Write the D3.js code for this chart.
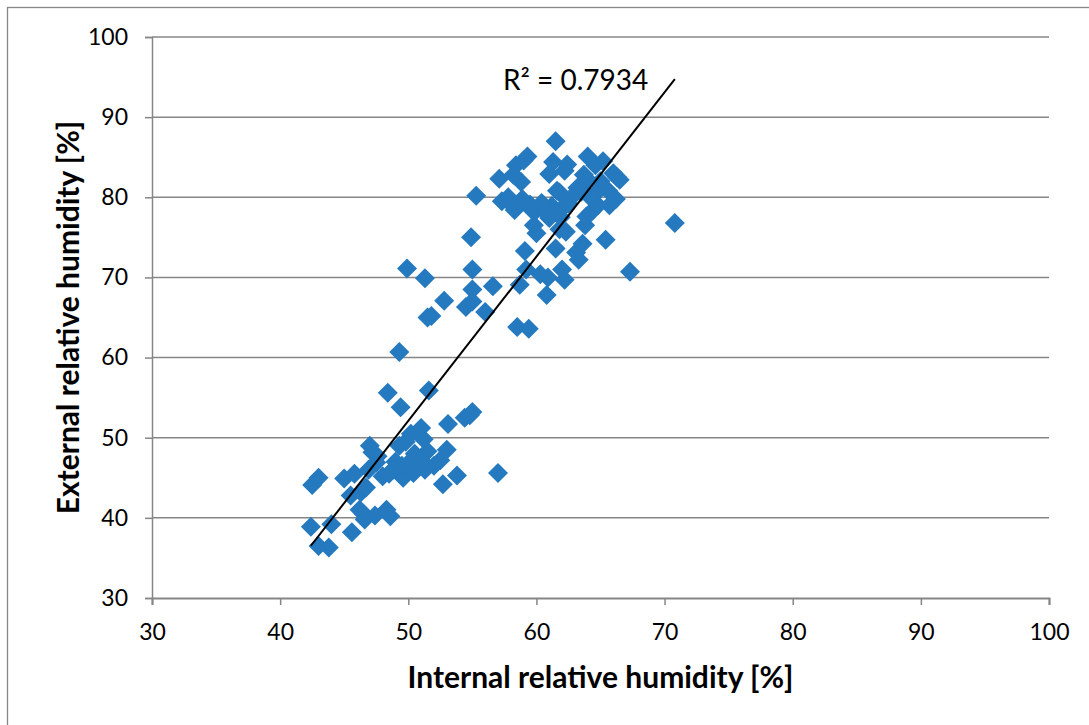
<!DOCTYPE html>
<html>
<head>
<meta charset="utf-8">
<script src="https://cdn.jsdelivr.net/npm/d3@7"></script>
<style>
  html, body { margin: 0; padding: 0; background: #fff; }
  svg { display: block; }
  text { font-family: Lato, "Liberation Sans", sans-serif; fill: #000; }
</style>
</head>
<body>
<svg id="chart" width="1089" height="725"></svg>
<script>
// ---- data ----
const internalRH = [
  42.5, 43.0, 42.4, 43.0, 43.8, 44.0, 45.0, 45.5, 45.6, 45.8,
  46.3, 46.2, 46.5, 46.6, 47.0, 46.9, 47.2, 47.4, 47.5, 48.0,
  48.4, 48.3, 48.6, 48.5, 49.0, 49.3, 49.4, 49.3, 49.6, 49.5,
  49.9, 50.2, 50.4, 50.8, 51.0, 51.2, 51.3, 51.3, 51.5, 51.6,
  51.5, 51.8, 52.0, 52.7, 52.8, 53.1, 53.0, 53.8, 54.4, 54.5,
  54.8, 55.0, 54.9, 55.0, 55.0, 55.0, 55.3, 56.0, 56.6, 57.0,
  57.1, 57.3, 57.8, 58.0, 58.3, 58.2, 58.4, 58.5, 58.7, 58.8,
  58.9, 59.0, 59.1, 59.3, 59.2, 59.4, 59.5, 59.8, 60.0, 60.0,
  60.3, 60.5, 60.8, 60.9, 61.0, 61.2, 61.3, 61.0, 61.5, 61.5,
  61.8, 61.8, 62.0, 62.2, 62.0, 62.2, 62.4, 62.3, 62.5, 63.1,
  63.3, 63.5, 63.6, 63.8, 63.9, 64.0, 64.0, 64.3, 64.5, 64.6,
  64.8, 65.0, 65.2, 65.4, 65.6, 65.7, 66.0, 66.2, 66.3, 66.5,
  67.3, 70.8,
  49.8, 50.5, 51.0, 50.0, 52.5, 48.8, 46.7, 47.6,
  59.6, 60.4, 61.6, 62.6, 63.2, 63.7, 64.2, 65.1, 60.8, 61.9
];
const externalRH = [
  44.1, 45.0, 38.9, 36.5, 36.3, 39.2, 44.9, 42.8, 38.2, 45.5,
  43.2, 41.0, 40.5, 39.8, 49.0, 46.0, 48.2, 40.3, 46.9, 45.2,
  55.6, 41.0, 40.2, 45.5, 47.0, 60.7, 53.8, 49.0, 45.0, 46.5,
  71.1, 50.5, 45.6, 46.3, 51.2, 49.8, 46.0, 69.9, 65.0, 55.9,
  48.3, 65.2, 46.5, 44.2, 67.1, 51.7, 48.5, 45.3, 52.5, 66.3,
  52.8, 53.2, 75.0, 71.0, 67.0, 68.5, 80.2, 65.7, 68.9, 45.6,
  82.3, 79.5, 80.0, 79.2, 78.4, 82.8, 84.0, 63.8, 69.1, 81.9,
  79.8, 84.6, 73.3, 85.1, 71.0, 63.6, 79.1, 76.5, 75.5, 78.4,
  70.4, 79.1, 67.8, 70.0, 77.4, 78.9, 84.4, 82.9, 87.0, 73.6,
  76.0, 80.6, 78.6, 69.7, 71.0, 83.3, 84.1, 75.7, 79.2, 73.1,
  72.2, 80.7, 74.2, 76.5, 77.6, 85.1, 82.2, 78.2, 80.3, 84.0,
  79.0, 82.0, 84.5, 74.7, 80.8, 79.0, 83.0, 79.8, 82.5, 82.2,
  70.7, 76.8,
  49.5, 48.0, 47.2, 46.8, 47.2, 46.0, 43.8, 47.7,
  78.5, 79.3, 80.8, 79.8, 81.2, 82.8, 80.0, 81.3, 78.0, 77.5
];
const xTicks = [30, 40, 50, 60, 70, 80, 90, 100];
const yTicks = [30, 40, 50, 60, 70, 80, 90, 100];
const trendSlope = 2.05;
const trendIntercept = -50.4;
const rSquaredLabel = "R² = 0.7934";
const xTitle = "Internal relative humidity [%]";
const yTitle = "External relative humidity [%]";

(function () {
  // ---- layout ----
  const svg = d3.select("#chart");
  const pLeft = 152, pRight = 1049, pTop = 37, pBottom = 598;
  const gridColor = "#868686";
  const markerColor = "#2579bf";

  const x = d3.scaleLinear().domain([30, 100]).range([pLeft, pRight]);
  const y = d3.scaleLinear().domain([30, 100]).range([pBottom, pTop]);

  // outer chart border (left/top visible; cropped on right/bottom)
  svg.append("rect")
    .attr("x", 7.5).attr("y", 7.5)
    .attr("width", 1100).attr("height", 740)
    .attr("fill", "none").attr("stroke", gridColor).attr("stroke-width", 1.3);

  // horizontal gridlines
  svg.append("g").selectAll("line").data(yTicks.filter(d => d > 30)).join("line")
    .attr("x1", pLeft).attr("x2", pRight)
    .attr("y1", d => y(d)).attr("y2", d => y(d))
    .attr("stroke", gridColor).attr("stroke-width", 1.5);

  // y axis
  const yAxis = svg.append("g").attr("transform", `translate(${pLeft},0)`)
    .call(d3.axisLeft(y).tickValues(yTicks).tickSize(7).tickPadding(17).tickFormat(d3.format("d")));
  yAxis.select(".domain").attr("stroke", gridColor).attr("stroke-width", 1.5);
  yAxis.selectAll(".tick line").attr("stroke", gridColor).attr("stroke-width", 1.5);
  yAxis.selectAll(".tick text").attr("font-size", 23).attr("font-family", "Lato, sans-serif").attr("fill", "#000");

  // x axis
  const xAxis = svg.append("g").attr("transform", `translate(0,${pBottom})`)
    .call(d3.axisBottom(x).tickValues(xTicks).tickSize(7).tickPadding(19).tickFormat(d3.format("d")));
  xAxis.select(".domain").attr("stroke", gridColor).attr("stroke-width", 2);
  xAxis.selectAll(".tick line").attr("stroke", gridColor).attr("stroke-width", 1.5);
  xAxis.selectAll(".tick text").attr("font-size", 23).attr("font-family", "Lato, sans-serif").attr("fill", "#000");

  // points (diamonds)
  const pts = internalRH.map((v, i) => ({ x: v, y: externalRH[i] }));
  const diamond = d3.symbol().type(d3.symbolSquare).size(200);
  svg.append("g").selectAll("path").data(pts).join("path")
    .attr("d", diamond)
    .attr("transform", d => `translate(${x(d.x)},${y(d.y)}) rotate(45)`)
    .attr("fill", markerColor);

  // trend line
  const xmin = d3.min(internalRH), xmax = d3.max(internalRH);
  svg.append("line")
    .attr("x1", x(xmin)).attr("y1", y(trendSlope * xmin + trendIntercept))
    .attr("x2", x(xmax)).attr("y2", y(trendSlope * xmax + trendIntercept))
    .attr("stroke", "#000").attr("stroke-width", 2);

  // R² label
  svg.append("text")
    .attr("x", 503).attr("y", 90)
    .attr("font-size", 28)
    .text(rSquaredLabel);

  // axis titles
  svg.append("text")
    .attr("x", (pLeft + pRight) / 2).attr("y", 688)
    .attr("text-anchor", "middle")
    .attr("font-size", 30).attr("font-weight", "bold")
    .text(xTitle);

  svg.append("text")
    .attr("transform", `translate(79,${(pTop + pBottom) / 2}) rotate(-90)`)
    .attr("text-anchor", "middle")
    .attr("font-size", 30).attr("font-weight", "bold")
    .text(yTitle);
})();
</script>
</body>
</html>
